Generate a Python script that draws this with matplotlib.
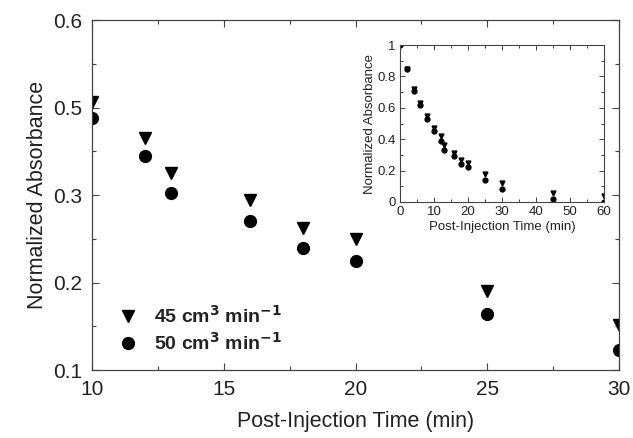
import numpy as np
import matplotlib
matplotlib.use("Agg")
import matplotlib.pyplot as plt
from matplotlib.ticker import MultipleLocator, FixedLocator

plt.rcParams['font.family'] = ['Liberation Sans', 'DejaVu Sans']

# main panel data (read in tick-label units)
t_main = [10, 12, 13, 16, 18, 20, 25, 30]
a45_main = [0.506, 0.43, 0.35, 0.294, 0.262, 0.25, 0.19, 0.151]
a50_main = [0.476, 0.39, 0.304, 0.27, 0.239, 0.225, 0.164, 0.123]

# inset data
t_inset = [0, 2, 4, 6, 8, 10, 12, 13, 16, 18, 20, 25, 30, 45, 60]
a45_inset = [1.0, 0.85, 0.72, 0.63, 0.55, 0.47, 0.42, 0.36, 0.31, 0.27, 0.25, 0.18, 0.12, 0.06, 0.04]
a50_inset = [1.0, 0.845, 0.71, 0.62, 0.53, 0.45, 0.39, 0.33, 0.29, 0.24, 0.22, 0.14, 0.085, 0.02, 0.0]

# the main y axis labels are unevenly valued but evenly spaced
y_labels = [0.1, 0.2, 0.3, 0.5, 0.6]
y_pos = [0, 1, 2, 3, 4]


def fwd(v):
    return np.interp(v, y_labels, y_pos)


def inv(p):
    return np.interp(p, y_pos, y_labels)


fig = plt.figure(figsize=(6.33, 4.38), dpi=100)
ax = fig.add_axes([0.1453, 0.155, 0.8327, 0.799])

spine_col = '#444444'
text_col = '#222222'

ax.plot(t_main, a45_main, 'v', color='black', markersize=8.5, linestyle='None',
        label=r'45 cm$^{\mathbf{3}}$ min$^{\mathbf{-1}}$')
ax.plot(t_main, a50_main, 'o', color='black', markersize=8.5, linestyle='None',
        label=r'50 cm$^{\mathbf{3}}$ min$^{\mathbf{-1}}$')

ax.set_yscale('function', functions=(fwd, inv))
ax.set_xlim(10, 30)
ax.set_ylim(0.1, 0.6)
ax.yaxis.set_major_locator(FixedLocator(y_labels))
ax.yaxis.set_minor_locator(FixedLocator([0.15, 0.25, 0.4, 0.55]))
ax.set_yticklabels(['0.1', '0.2', '0.3', '0.5', '0.6'])
ax.xaxis.set_major_locator(MultipleLocator(5))
ax.xaxis.set_minor_locator(MultipleLocator(2.5))
ax.tick_params(which='both', direction='in', top=True, right=True, colors=spine_col,
               labelcolor=text_col, labelsize=15, width=0.8)
ax.tick_params(which='major', length=5, pad=7)
ax.tick_params(which='minor', length=3)
for s in ax.spines.values():
    s.set_color(spine_col)
    s.set_linewidth(0.9)

ax.set_xlabel('Post-Injection Time (min)', fontsize=15.5, color=text_col, labelpad=9)
ax.set_ylabel('Normalized Absorbance', fontsize=15.5, color=text_col, labelpad=4)

leg = ax.legend(loc='lower left', bbox_to_anchor=(0.01, 0.008), frameon=False,
                prop={'weight': 'bold', 'size': 14}, handletextpad=0.4,
                labelspacing=0.25, borderaxespad=0.3, handlelength=1.8)
for txt in leg.get_texts():
    txt.set_color(text_col)

# inset
axi = fig.add_axes([0.632, 0.539, 0.322, 0.358])
axi.plot(t_inset, a45_inset, 'v', color='black', markersize=3.5, linestyle='None')
axi.plot(t_inset, a50_inset, 'o', color='black', markersize=3.5, linestyle='None')
axi.set_xlim(0, 60)
axi.set_ylim(0, 1)
axi.xaxis.set_major_locator(MultipleLocator(10))
axi.xaxis.set_minor_locator(MultipleLocator(5))
axi.yaxis.set_major_locator(MultipleLocator(0.2))
axi.yaxis.set_minor_locator(MultipleLocator(0.1))
axi.yaxis.set_major_formatter(plt.FuncFormatter(lambda v, p: f'{v:g}'))
axi.tick_params(which='both', direction='in', top=True, right=True, colors=spine_col,
                labelcolor=text_col, labelsize=9.5, width=0.7, pad=3)
axi.tick_params(which='major', length=3.5)
axi.tick_params(which='minor', length=2)
for s in axi.spines.values():
    s.set_color(spine_col)
    s.set_linewidth(0.8)
axi.set_xlabel('Post-Injection Time (min)', fontsize=9.5, color=text_col, labelpad=2)
axi.set_ylabel('Normalized Absorbance', fontsize=9.5, color=text_col, labelpad=1)

fig.savefig('out.png', dpi=100)
